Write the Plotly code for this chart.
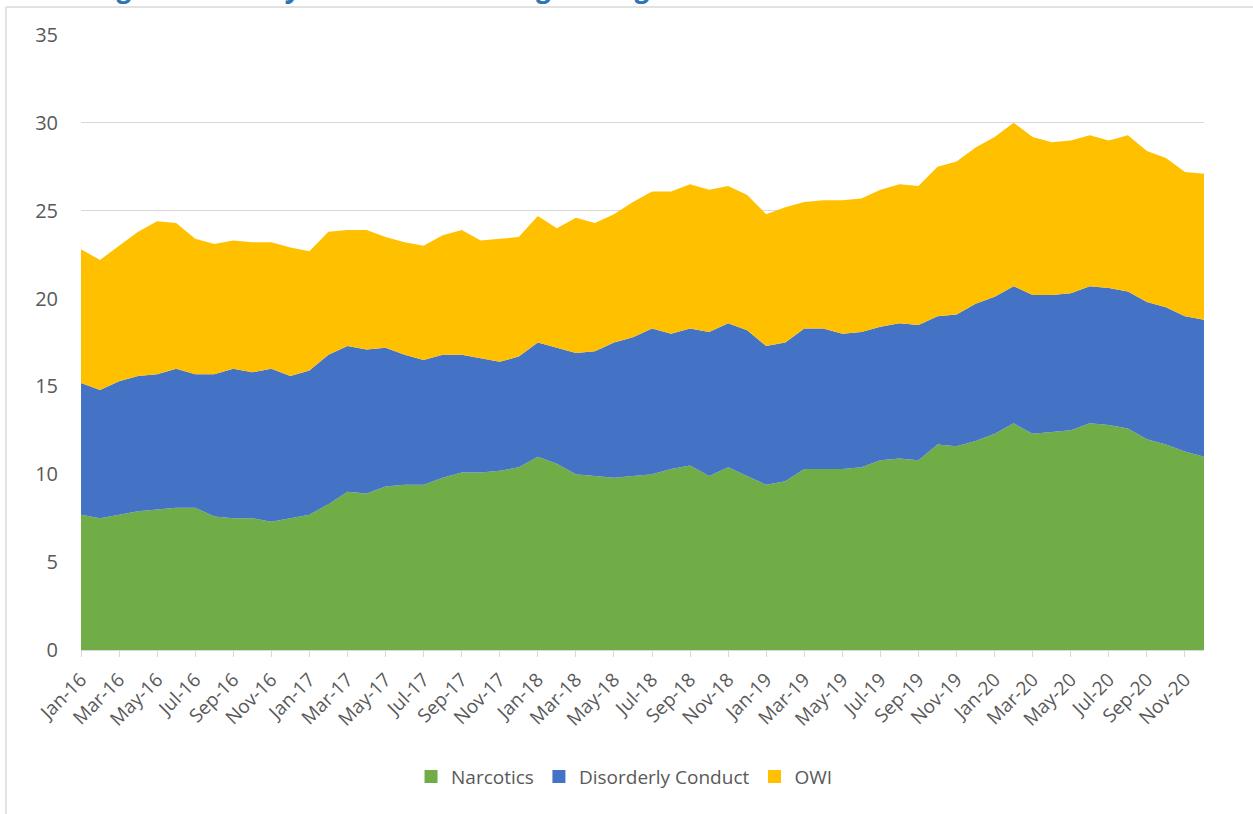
import plotly.graph_objects as go

months = [f"{m}-{y}" for y in ["16", "17", "18", "19", "20"]
          for m in ["Jan", "Feb", "Mar", "Apr", "May", "Jun", "Jul", "Aug", "Sep", "Oct", "Nov", "Dec"]]

narcotics = [7.7, 7.5, 7.7, 7.9, 8.0, 8.1, 8.1, 7.6, 7.5, 7.5, 7.3, 7.5,
             7.7, 8.3, 9.0, 8.9, 9.3, 9.4, 9.4, 9.8, 10.1, 10.1, 10.2, 10.4,
             11.0, 10.6, 10.0, 9.9, 9.8, 9.9, 10.0, 10.3, 10.5, 9.9, 10.4, 9.9,
             9.4, 9.6, 10.3, 10.3, 10.3, 10.4, 10.8, 10.9, 10.8, 11.7, 11.6, 11.9,
             12.3, 12.9, 12.3, 12.4, 12.5, 12.9, 12.8, 12.6, 12.0, 11.7, 11.3, 11.0]

disorderly = [7.5, 7.3, 7.6, 7.7, 7.7, 7.9, 7.6, 8.1, 8.5, 8.3, 8.7, 8.1,
              8.2, 8.5, 8.3, 8.2, 7.9, 7.4, 7.1, 7.0, 6.7, 6.5, 6.2, 6.3,
              6.5, 6.6, 6.9, 7.1, 7.7, 7.9, 8.3, 7.7, 7.8, 8.2, 8.2, 8.3,
              7.9, 7.9, 8.0, 8.0, 7.7, 7.7, 7.6, 7.7, 7.7, 7.3, 7.5, 7.8,
              7.8, 7.8, 7.9, 7.8, 7.8, 7.8, 7.8, 7.8, 7.8, 7.8, 7.7, 7.8]

owi = [7.6, 7.4, 7.7, 8.2, 8.7, 8.3, 7.7, 7.4, 7.3, 7.4, 7.2, 7.3,
       6.8, 7.0, 6.6, 6.8, 6.3, 6.4, 6.5, 6.8, 7.1, 6.7, 7.0, 6.8,
       7.2, 6.8, 7.7, 7.3, 7.3, 7.7, 7.8, 8.1, 8.2, 8.1, 7.8, 7.7,
       7.5, 7.7, 7.2, 7.3, 7.6, 7.6, 7.8, 7.9, 7.9, 8.5, 8.7, 8.9,
       9.1, 9.3, 9.0, 8.7, 8.7, 8.6, 8.4, 8.9, 8.6, 8.5, 8.2, 8.3]

series = [("Narcotics", narcotics, "#70AD47"),
          ("Disorderly Conduct", disorderly, "#4472C4"),
          ("OWI", owi, "#FFC000")]

title_text = "Crimes Against Society - 12 Month Moving Average"

fig = go.Figure()
for name, vals, color in series:
    fig.add_trace(go.Scatter(
        x=months, y=vals, name=name, mode="lines", stackgroup="one",
        line=dict(width=0, color=color), fillcolor=color, showlegend=False,
    ))
# legend entries drawn as square markers (like the reference)
for name, vals, color in series:
    fig.add_trace(go.Scatter(
        x=[None], y=[None], name=name, mode="markers",
        marker=dict(symbol="square", size=13, color=color), showlegend=True,
    ))

font_family = "Open Sans, Liberation Sans, sans-serif"
fig.update_layout(
    width=1253, height=814,
    margin=dict(l=81, r=49, t=35, b=164),
    paper_bgcolor="white", plot_bgcolor="white",
    font=dict(family=font_family, size=19, color="#595959"),
    showlegend=True,
    legend=dict(orientation="h", x=0.484, xanchor="center", y=-0.206, yanchor="middle",
                traceorder="normal", font=dict(size=19, color="#595959"),
                itemwidth=30, bgcolor="rgba(0,0,0,0)"),
    xaxis=dict(type="category", range=[0, 59], tickmode="linear", tick0=0, dtick=2,
               tickangle=-45, showgrid=False, showline=True, linecolor="#d9d9d9",
               linewidth=1, ticks="outside", ticklen=6, tickcolor="#d9d9d9",
               ticklabelstandoff=4,
               tickfont=dict(size=19, color="#595959")),
    yaxis=dict(range=[0, 35], dtick=5, showgrid=True, gridcolor="#d9d9d9",
               gridwidth=1, zeroline=False, showline=False, ticks="",
               ticklabelstandoff=22,
               tickfont=dict(size=20, color="#595959")),
)

fig.add_annotation(text=f"<b><i>{title_text}</i></b>", xref="paper", yref="paper",
                   x=-0.0721, xanchor="left", y=1.0455, yanchor="bottom", showarrow=False,
                   font=dict(size=28, color="#2F75B5", family=font_family))

# chart-area frame: top and left edges only (right and bottom lie outside the view)
border = dict(color="#d9d9d9", width=1.5)
fig.add_shape(type="line", xref="paper", yref="paper",
              x0=-0.0668, x1=1.08, y0=1.0455, y1=1.0455, line=border, layer="below")
fig.add_shape(type="line", xref="paper", yref="paper",
              x0=-0.0668, x1=-0.0668, y0=1.0455, y1=-0.30, line=border, layer="below")

fig.write_html("out.html", config={"displayModeBar": False},
               post_script="document.body.style.margin='0';")
